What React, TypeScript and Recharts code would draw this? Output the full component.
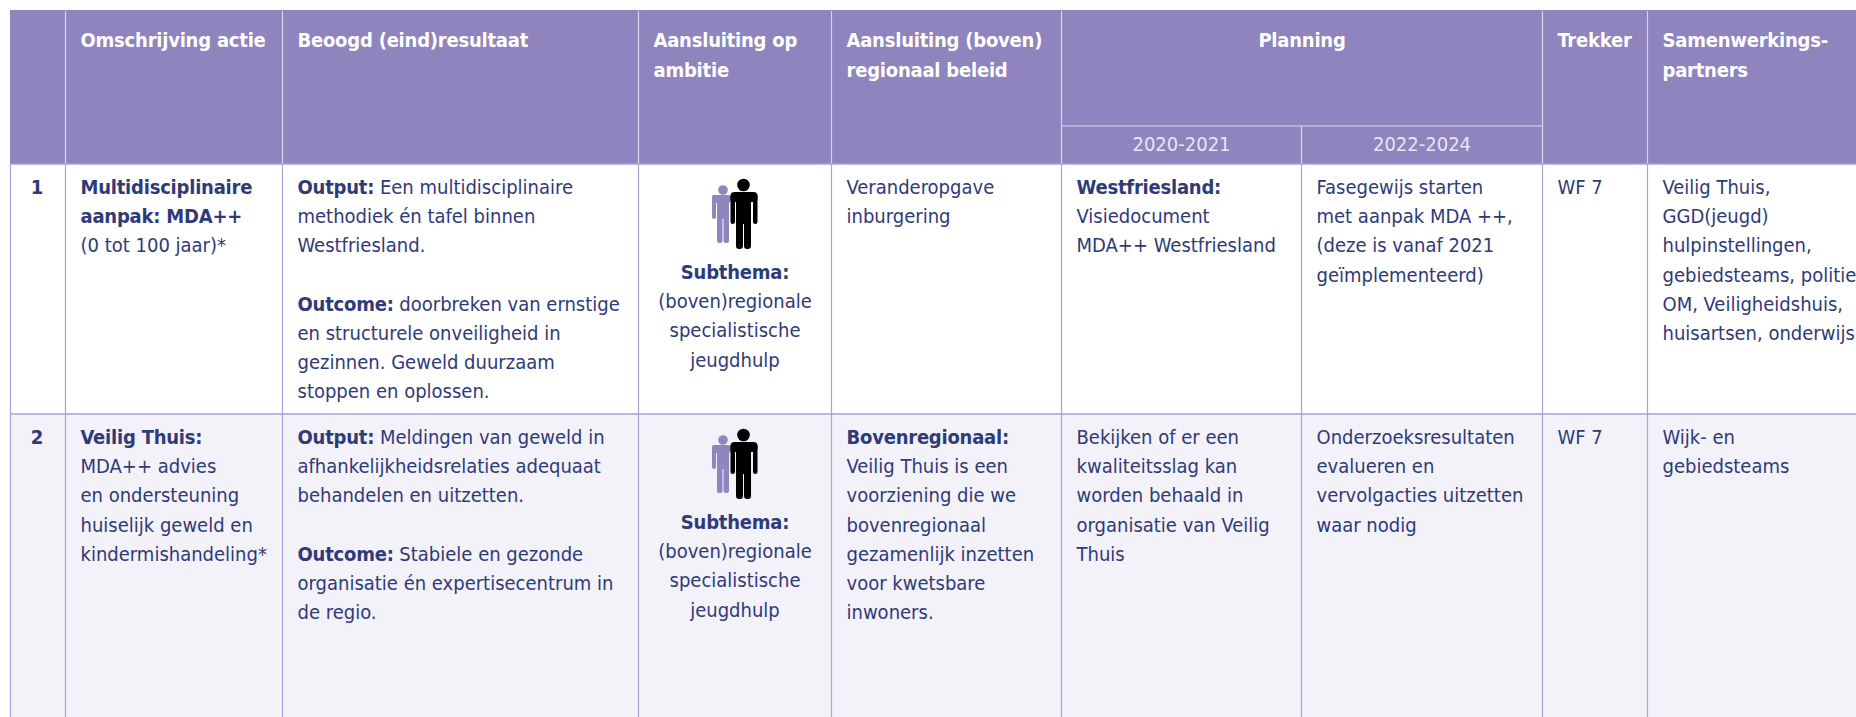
import React from "react";
import { ComposedChart, Scatter, ReferenceArea, ReferenceLine, XAxis, YAxis } from "recharts";

const WIDTH = 1856;
const HEIGHT = 717;
const FONT = "'DejaVu Sans Condensed', 'DejaVu Sans', sans-serif";
const SIZE = 20;
const BOLD_TRACKING = -0.22;
const INK = "#2F3A78";
const HEAD = "#8F84BD";
const GRID = "#A9A0D6";
const HEAD_LINE = "#D9D5EC";
const ROW2 = "#F3F2F9";

const columnEdges = [10.5, 65.5, 282.5, 638.5, 831.5, 1061.5, 1301.5, 1542.5, 1647.5, 1856];
const headerTop = 10;
const subHeaderY = 126;
const rowTops = [164, 414];
const rowBottom = 717;
const lineStep = 29.2;

const headerTitles = [
  { col: 1, lines: ["Omschrijving actie"] },
  { col: 2, lines: ["Beoogd (eind)resultaat"] },
  { col: 3, lines: ["Aansluiting op", "ambitie"] },
  { col: 4, lines: ["Aansluiting (boven)", "regionaal beleid"] },
  { col: 7, lines: ["Trekker"] },
  { col: 8, lines: ["Samenwerkings-", "partners"] },
];
const planningTitle = "Planning";
const planningPeriods = ["2020-2021", "2022-2024"];

const rowNumbers = ["1", "2"];

const actionLines = [
  ["**Multidisciplinaire", "**aanpak: MDA++", "(0 tot 100 jaar)*"],
  ["**Veilig Thuis:", "MDA++ advies", "en ondersteuning", "huiselijk geweld en", "kindermishandeling*"],
];
const resultLines = [
  ["**Output:** Een multidisciplinaire", "methodiek én tafel binnen", "Westfriesland.", "", "**Outcome:** doorbreken van ernstige", "en structurele onveiligheid in", "gezinnen. Geweld duurzaam", "stoppen en oplossen."],
  ["**Output:** Meldingen van geweld in", "afhankelijkheidsrelaties adequaat", "behandelen en uitzetten.", "", "**Outcome:** Stabiele en gezonde", "organisatie én expertisecentrum in", "de regio."],
];
const ambitionLines = [
  ["**Subthema:", "(boven)regionale", "specialistische", "jeugdhulp"],
  ["**Subthema:", "(boven)regionale", "specialistische", "jeugdhulp"],
];
const policyLines = [
  ["Veranderopgave", "inburgering"],
  ["**Bovenregionaal:", "Veilig Thuis is een", "voorziening die we", "bovenregionaal", "gezamenlijk inzetten", "voor kwetsbare", "inwoners."],
];
const plan2020Lines = [
  ["**Westfriesland:", "Visiedocument", "MDA++ Westfriesland"],
  ["Bekijken of er een", "kwaliteitsslag kan", "worden behaald in", "organisatie van Veilig", "Thuis"],
];
const plan2022Lines = [
  ["Fasegewijs starten", "met aanpak MDA ++,", "(deze is vanaf 2021", "geïmplementeerd)"],
  ["Onderzoeksresultaten", "evalueren en", "vervolgacties uitzetten", "waar nodig"],
];
const leadLines = [["WF 7"], ["WF 7"]];
const partnerLines = [
  ["Veilig Thuis,", "GGD(jeugd)", "hulpinstellingen,", "gebiedsteams, politie,", "OM, Veiligheidshuis,", "huisartsen, onderwijs"],
  ["Wijk- en", "gebiedsteams"],
];

type TextPoint = { x: number; y: number; text: string; anchor: string; color: string };

const textPoints: TextPoint[] = [];
const pad = 15;

headerTitles.forEach((h) => {
  h.lines.forEach((line, i) => {
    textPoints.push({ x: columnEdges[h.col] + pad, y: 47 + i * 30, text: "**" + line, anchor: "start", color: "#FFFFFF" });
  });
});
textPoints.push({ x: (columnEdges[5] + columnEdges[7]) / 2, y: 47, text: "**" + planningTitle, anchor: "middle", color: "#FFFFFF" });
planningPeriods.forEach((p, i) => {
  textPoints.push({ x: (columnEdges[5 + i] + columnEdges[6 + i]) / 2, y: 151, text: p, anchor: "middle", color: "#E8E6F4" });
});

rowTops.forEach((top, r) => {
  const base = top + 30;
  textPoints.push({ x: 37, y: base, text: "**" + rowNumbers[r], anchor: "middle", color: INK });
  const cols: [string[][], number][] = [
    [actionLines, 1],
    [resultLines, 2],
    [policyLines, 4],
    [plan2020Lines, 5],
    [plan2022Lines, 6],
    [leadLines, 7],
    [partnerLines, 8],
  ];
  cols.forEach(([cells, col]) => {
    cells[r].forEach((line, i) => {
      if (line) textPoints.push({ x: columnEdges[col] + pad, y: base + i * lineStep, text: line, anchor: "start", color: INK });
    });
  });
  ambitionLines[r].forEach((line, i) => {
    textPoints.push({ x: (columnEdges[3] + columnEdges[4]) / 2, y: top + 115 + i * lineStep, text: line, anchor: "middle", color: INK });
  });
});

const iconPoints = rowTops.map((top) => ({ x: 734, y: top }));

const boldProps = { fontWeight: "bold", letterSpacing: BOLD_TRACKING };

function renderRuns(text: string) {
  if (text.startsWith("**")) {
    const rest = text.slice(2);
    const end = rest.indexOf("**");
    if (end < 0) return <tspan {...boldProps}>{rest}</tspan>;
    return (
      <>
        <tspan {...boldProps}>{rest.slice(0, end)}</tspan>
        <tspan>{rest.slice(end + 2)}</tspan>
      </>
    );
  }
  return <tspan>{text}</tspan>;
}

const TextMark = (props: any) => {
  const { cx, cy, payload } = props;
  return (
    <text x={cx} y={cy} textAnchor={payload.anchor} fill={payload.color} fontFamily={FONT} fontSize={SIZE} xmlSpace="preserve">
      {renderRuns(payload.text)}
    </text>
  );
};

const IconMark = (props: any) => {
  const { cx, cy } = props;
  return (
    <g transform={`translate(${cx},${cy})`}>
      <g fill="#9185C0">
        <circle cx={-11} cy={26} r={4.8} />
        <rect x={-22} y={31} width={19} height={8} rx={3} />
        <rect x={-22} y={31} width={4} height={24} rx={2} />
        <rect x={-17} y={33} width={5.5} height={46} rx={2.5} />
        <rect x={-10.5} y={33} width={5.5} height={46} rx={2.5} />
        <rect x={-17} y={33} width={12} height={22} />
      </g>
      <g fill="#000000">
        <circle cx={9.5} cy={21} r={6.3} />
        <rect x={-3.5} y={28} width={27} height={10} rx={4} />
        <rect x={-3.5} y={30} width={4.5} height={30} rx={2.2} />
        <rect x={19} y={30} width={4.5} height={30} rx={2.2} />
        <rect x={2} y={34} width={7} height={51} rx={3} />
        <rect x={10} y={34} width={7} height={51} rx={3} />
        <rect x={2} y={34} width={15} height={26} />
      </g>
    </g>
  );
};

export default function App() {
  return (
    <div style={{ position: "absolute", left: 0, top: 0, width: WIDTH, height: HEIGHT, background: "#fff" }}>
      <ComposedChart width={WIDTH} height={HEIGHT} margin={{ top: 0, right: 0, bottom: 0, left: 0 }} data={[]}>
        <XAxis type="number" dataKey="x" domain={[0, WIDTH]} hide allowDataOverflow />
        <YAxis type="number" dataKey="y" domain={[0, HEIGHT]} reversed hide allowDataOverflow />
        <ReferenceArea x1={10} x2={WIDTH} y1={headerTop} y2={rowTops[0]} fill={HEAD} fillOpacity={1} stroke="none" />
        <ReferenceArea x1={10} x2={WIDTH} y1={rowTops[1]} y2={rowBottom} fill={ROW2} fillOpacity={1} stroke="none" />
        {columnEdges.slice(0, 9).map((x) => (
          <ReferenceLine key={`b${x}`} segment={[{ x, y: rowTops[0] }, { x, y: rowBottom }]} stroke={GRID} strokeWidth={1.2} />
        ))}
        {columnEdges.slice(1, 9).filter((x) => x !== columnEdges[6]).map((x) => (
          <ReferenceLine key={`h${x}`} segment={[{ x, y: headerTop + 1 }, { x, y: rowTops[0] }]} stroke={HEAD_LINE} strokeWidth={1.2} />
        ))}
        <ReferenceLine segment={[{ x: columnEdges[6], y: subHeaderY }, { x: columnEdges[6], y: rowTops[0] }]} stroke={HEAD_LINE} strokeWidth={1.2} />
        <ReferenceLine segment={[{ x: columnEdges[5], y: subHeaderY }, { x: columnEdges[7], y: subHeaderY }]} stroke={HEAD_LINE} strokeWidth={1.2} />
        {rowTops.map((y) => (
          <ReferenceLine key={`r${y}`} segment={[{ x: 10, y }, { x: WIDTH, y }]} stroke={GRID} strokeWidth={1.6} />
        ))}
        <Scatter data={iconPoints} dataKey="y" isAnimationActive={false} shape={IconMark} />
        <Scatter data={textPoints} dataKey="y" isAnimationActive={false} shape={TextMark} />
      </ComposedChart>
    </div>
  );
}
